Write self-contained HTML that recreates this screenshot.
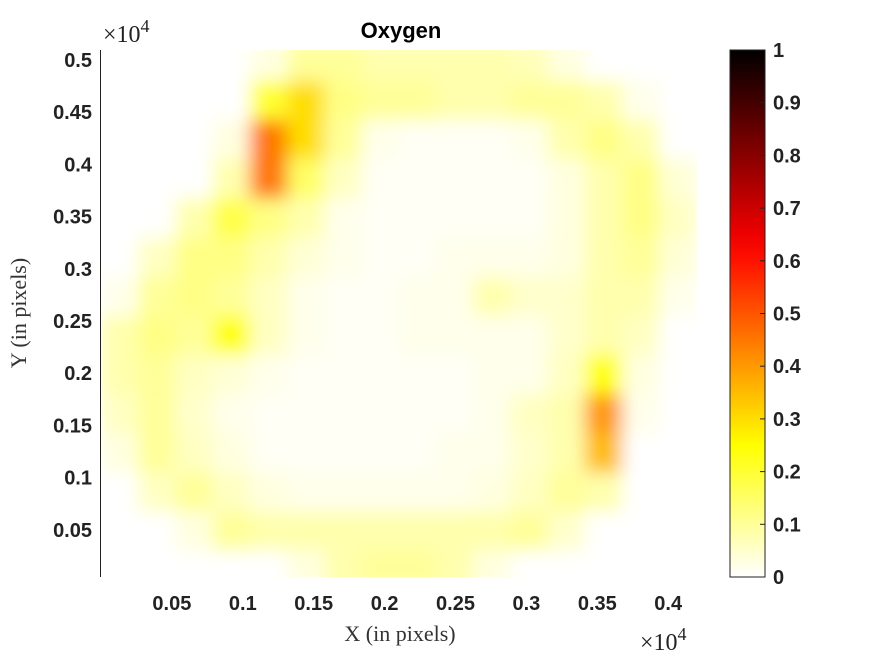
<!DOCTYPE html>
<html><head><meta charset="utf-8"><style>
body{margin:0;background:#fff;}
svg{display:block;}
</style></head><body>
<svg id="chart" width="875" height="656" xmlns="http://www.w3.org/2000/svg">
<defs>
<filter id="blur" x="-20%" y="-20%" width="140%" height="140%"><feGaussianBlur stdDeviation="9"/></filter>
<clipPath id="plotclip"><rect x="101" y="50" width="596" height="527"/></clipPath>
<linearGradient id="cbgrad" x1="0" y1="1" x2="0" y2="0"></linearGradient>
</defs>
<g id="heat" clip-path="url(#plotclip)"><g id="cells" filter="url(#blur)"></g></g>
<line x1="100.5" y1="50" x2="100.5" y2="577" stroke="#222" stroke-width="1"/>
<g id="yticks" font-family="Liberation Sans, sans-serif" font-weight="bold" font-size="20" fill="#222" text-anchor="end"></g>
<g id="xticks" font-family="Liberation Sans, sans-serif" font-weight="bold" font-size="20" fill="#222" text-anchor="middle"></g>
<text x="103" y="42" font-family="Liberation Serif, serif" font-size="24" fill="#222">×10<tspan dy="-10" font-size="18">4</tspan></text>
<text x="640" y="650" font-family="Liberation Serif, serif" font-size="24" fill="#222">×10<tspan dy="-10" font-size="18">4</tspan></text>
<text x="401" y="38" text-anchor="middle" font-family="Liberation Sans, sans-serif" font-weight="bold" font-size="22" fill="#000">Oxygen</text>
<text x="400" y="641" text-anchor="middle" font-family="Liberation Serif, serif" font-size="22" fill="#333">X (in pixels)</text>
<text transform="translate(26,313) rotate(-90)" text-anchor="middle" font-family="Liberation Serif, serif" font-size="22" fill="#333">Y (in pixels)</text>
<rect x="730" y="50" width="35" height="527" fill="url(#cbgrad)" stroke="#222" stroke-width="1"/>
<g id="cbticks" font-family="Liberation Sans, sans-serif" font-weight="bold" font-size="20" fill="#222"></g>
</svg>
<script>
const xTicks=[0.05,0.1,0.15,0.2,0.25,0.3,0.35,0.4];
const yTicks=[0.05,0.1,0.15,0.2,0.25,0.3,0.35,0.4,0.45,0.5];
const cbTicks=[0,0.1,0.2,0.3,0.4,0.5,0.6,0.7,0.8,0.9,1];
const gridX0=0.0,gridDX=0.02625;
const gridYTop=0.5175,gridDY=0.0375;
const row0=[0,0,0,0,0.03,0.1,0.1,0.08,0.08,0.08,0.08,0.07,0.03,0,0,0];
const row1=[0,0,0,0,0.2,0.3,0.12,0.1,0.1,0.08,0.08,0.1,0.1,0.08,0.02,0];
const row2=[0,0,0,0.03,0.45,0.3,0.1,0.02,0.01,0.01,0.01,0.02,0.08,0.12,0.08,0];
const row3=[0,0,0,0.08,0.45,0.15,0.06,0.01,0.01,0.01,0.01,0.01,0.03,0.08,0.12,0.04];
const row4=[0,0,0.08,0.18,0.12,0.08,0.02,0.01,0.01,0.01,0.01,0.01,0.03,0.08,0.12,0.06];
const row5=[0,0.06,0.12,0.12,0.08,0.04,0.02,0.01,0.01,0.02,0.02,0.02,0.03,0.08,0.1,0.04];
const row6=[0.02,0.1,0.12,0.1,0.06,0.02,0.01,0.01,0.02,0.02,0.08,0.05,0.05,0.08,0.08,0.02];
const row7=[0.08,0.12,0.1,0.25,0.06,0.02,0.01,0.01,0.02,0.02,0.02,0.02,0.05,0.08,0.06,0];
const row8=[0.08,0.1,0.06,0.04,0.02,0.01,0.01,0.01,0.01,0.01,0.02,0.02,0.06,0.25,0.03,0];
const row9=[0.06,0.1,0.05,0.02,0.01,0.01,0.01,0.01,0.01,0.01,0.02,0.06,0.08,0.4,0.02,0];
const row10=[0.03,0.1,0.06,0.03,0.01,0.01,0.01,0.01,0.01,0.02,0.02,0.05,0.08,0.35,0,0];
const row11=[0,0.06,0.1,0.06,0.03,0.02,0.02,0.02,0.02,0.02,0.03,0.06,0.1,0.08,0,0];
const row12=[0,0,0.03,0.1,0.08,0.08,0.08,0.08,0.08,0.08,0.08,0.1,0.05,0,0,0];
const row13=[0,0,0,0,0,0.03,0.08,0.1,0.1,0.08,0.03,0,0,0,0,0];
const rows=[row0,row1,row2,row3,row4,row5,row6,row7,row8,row9,row10,row11,row12,row13];

const NS="http://www.w3.org/2000/svg";
const xScale=v=>101+v*(70.9/0.05);
const yScale=v=>582-v*(52.2/0.05);
const cScale=v=>577-v*527;
function hotRev(v){const t=1-Math.max(0,Math.min(1,v));
 const r=Math.min(1,t/0.375),g=Math.max(0,Math.min(1,(t-0.375)/0.375)),b=Math.max(0,Math.min(1,(t-0.75)/0.25));
 return `rgb(${Math.round(r*255)},${Math.round(g*255)},${Math.round(b*255)})`;}
const cells=document.getElementById('cells');
rows.forEach((row,ri)=>row.forEach((v,ci)=>{
 const x0=xScale(gridX0+ci*gridDX),x1=xScale(gridX0+(ci+1)*gridDX);
 const y0=yScale(gridYTop-ri*gridDY),y1=yScale(gridYTop-(ri+1)*gridDY);
 const r=document.createElementNS(NS,'rect');
 r.setAttribute('x',x0);r.setAttribute('y',y0);
 r.setAttribute('width',x1-x0+0.5);r.setAttribute('height',y1-y0+0.5);
 r.setAttribute('fill',hotRev(v));
 
 
 cells.appendChild(r);
}));
const xt=document.getElementById('xticks');
xTicks.forEach(v=>{const t=document.createElementNS(NS,'text');t.setAttribute('x',xScale(v));t.setAttribute('y',610);t.textContent=String(v);
 
 
 xt.appendChild(t);});
const yt=document.getElementById('yticks');
yTicks.forEach(v=>{const t=document.createElementNS(NS,'text');t.setAttribute('x',92);t.setAttribute('y',yScale(v)+7);t.textContent=String(v);
 
 
 yt.appendChild(t);});
const grad=document.getElementById('cbgrad');
for(let i=0;i<=20;i++){const s=document.createElementNS(NS,'stop');s.setAttribute('offset',i/20);s.setAttribute('stop-color',hotRev(i/20));grad.appendChild(s);}
const cb=document.getElementById('cbticks');
cbTicks.forEach(v=>{const y=cScale(v);
 const l=document.createElementNS(NS,'line');l.setAttribute('x1',760);l.setAttribute('x2',765);l.setAttribute('y1',y);l.setAttribute('y2',y);l.setAttribute('stroke','#222');
 
 
 cb.appendChild(l);
 const t=document.createElementNS(NS,'text');t.setAttribute('x',773);t.setAttribute('y',y+7);t.textContent=String(v);
 
 
 cb.appendChild(t);});
</script>
</body></html>
